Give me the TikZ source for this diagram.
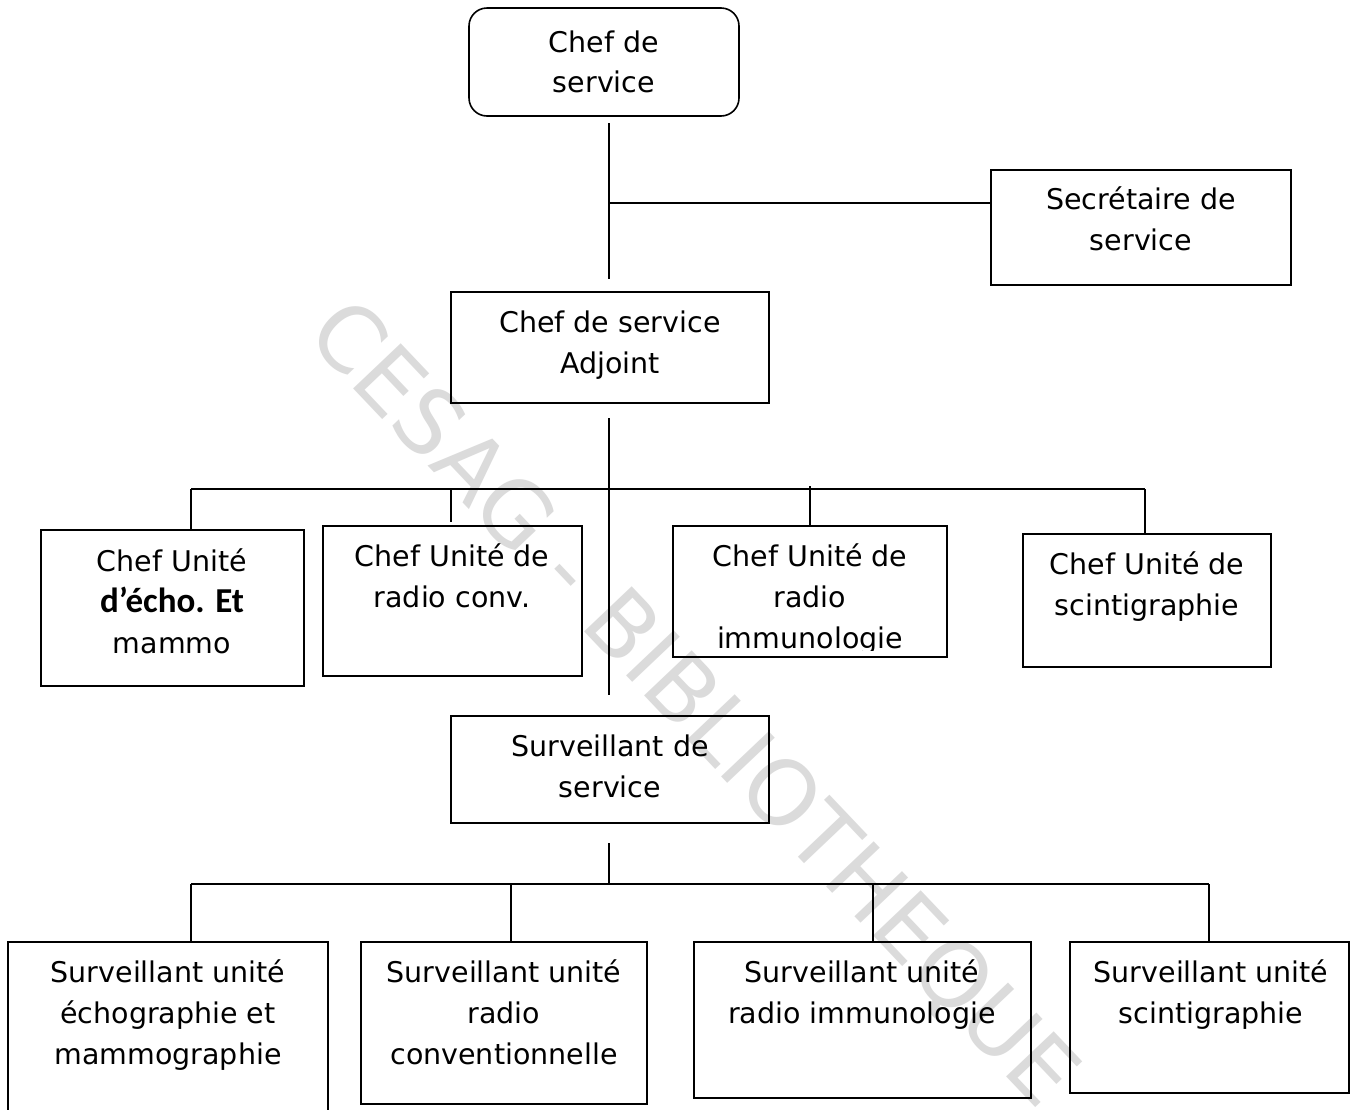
\documentclass[tikz,border=0pt]{standalone}
\usepackage{fontspec}
\setmainfont{DejaVu Sans}
\newfontfamily\carlito{Carlito}
\definecolor{wmgray}{RGB}{219,219,219}
\newcommand{\fl}{\rule{0pt}{23pt}}
\begin{document}
\begin{tikzpicture}[x=1pt,y=-1pt,
  box/.style={draw=black, line width=1.6pt, inner sep=0pt, rectangle},
  txt/.style={align=center, inner sep=0pt, anchor=north, font=\fontsize{28.5}{41}\selectfont},
  conn/.style={draw=black, line width=1.6pt},
  wm/.style={text=wmgray, inner sep=0pt, font=\fontsize{90}{90}\selectfont}]
\useasboundingbox[fill=white] (0,0) rectangle (1357,1109);
% watermark
\node[wm, rotate=-46.5] (wmk) at (692,705) {CESAG - BIBLIOTHEQUE};
% boxes
\node[box, rounded corners=18pt, minimum width=270pt, minimum height=108pt] (cs) at (604,62) {};
\node[box, minimum width=300pt, minimum height=115pt] (sec) at (1141,227.5) {};
\node[box, minimum width=318pt, minimum height=111pt] (adj) at (610,347.5) {};
\node[box, minimum width=263pt, minimum height=156pt] (u1) at (172.5,608) {};
\node[box, minimum width=259pt, minimum height=150pt] (u2) at (452.5,601) {};
\node[box, minimum width=274pt, minimum height=131pt] (u3) at (810,591.5) {};
\node[box, minimum width=248pt, minimum height=133pt] (u4) at (1147,600.5) {};
\node[box, minimum width=318pt, minimum height=107pt] (surv) at (610,769.5) {};
\node[box, minimum width=320pt, minimum height=170pt] (s1) at (168,1027) {};
\node[box, minimum width=286pt, minimum height=162pt] (s2) at (504,1023) {};
\node[box, minimum width=337pt, minimum height=156pt] (s3) at (862.5,1020) {};
\node[box, minimum width=279pt, minimum height=151pt] (s4) at (1209.5,1017.5) {};
% texts
\node[txt, font=\fontsize{28.5}{40}\selectfont] (tcs) at (604,29) {\fl Chef de\\service};
\node[txt] (tsec) at (1141,186) {\fl Secrétaire de\\service};
\node[txt] (tadj) at (610,309) {\fl Chef de service\\Adjoint};
\node[txt] (tu1) at (172,548) {\fl Chef Unité\\{\carlito\bfseries\fontsize{35}{41}\selectfont d’écho. Et}\\mammo};
\node[txt] (tu2) at (452,543) {\fl Chef Unité de\\radio conv.};
\begin{scope}
\clip (673,520) rectangle (947,650);
\node[txt] (tu3) at (810,543) {\fl Chef Unité de\\radio\\immunologie};
\end{scope}
\node[txt] (tu4) at (1147,551) {\fl Chef Unité de\\scintigraphie};
\node[txt] (tsurv) at (610,733) {\fl Surveillant de\\service};
\node[txt] (ts1) at (168,959) {\fl Surveillant unité\\échographie et\\mammographie};
\node[txt] (ts2) at (504,959) {\fl Surveillant unité\\radio\\conventionnelle};
\node[txt] (ts3) at (862,959) {\fl Surveillant unité\\radio immunologie};
\node[txt] (ts4) at (1211,959) {\fl Surveillant unité\\scintigraphie};
% connector coordinates
\coordinate (v1a) at (609,123);
\coordinate (v1b) at (609,279);
\coordinate (j1) at (609,203);
\coordinate (v2a) at (609,418);
\coordinate (v2b) at (609,695);
\coordinate (b1l) at (191,489);
\coordinate (b1r) at (1145,489);
\coordinate (d2) at (451,489);
\coordinate (d2e) at (451,522);
\coordinate (d3) at (810,486);
\coordinate (v3a) at (609,843);
\coordinate (v3b) at (609,884);
\coordinate (b2l) at (191,884);
\coordinate (b2r) at (1209,884);
\coordinate (e2) at (511,884);
\coordinate (e3) at (873,884);
% connectors
\draw[conn] (v1a) -- (v1b);
\draw[conn] (j1) -- (j1 -| sec.west);
\draw[conn] (v2a) -- (v2b);
\draw[conn] (b1l) -- (b1r);
\draw[conn] (b1l) -- (b1l |- u1.north);
\draw[conn] (d2) -- (d2e);
\draw[conn] (d3) -- (d3 |- u3.north);
\draw[conn] (b1r) -- (b1r |- u4.north);
\draw[conn] (v3a) -- (v3b);
\draw[conn] (b2l) -- (b2r);
\draw[conn] (b2l) -- (b2l |- s1.north);
\draw[conn] (e2) -- (e2 |- s2.north);
\draw[conn] (e3) -- (e3 |- s3.north);
\draw[conn] (b2r) -- (b2r |- s4.north);
\end{tikzpicture}
\end{document}
